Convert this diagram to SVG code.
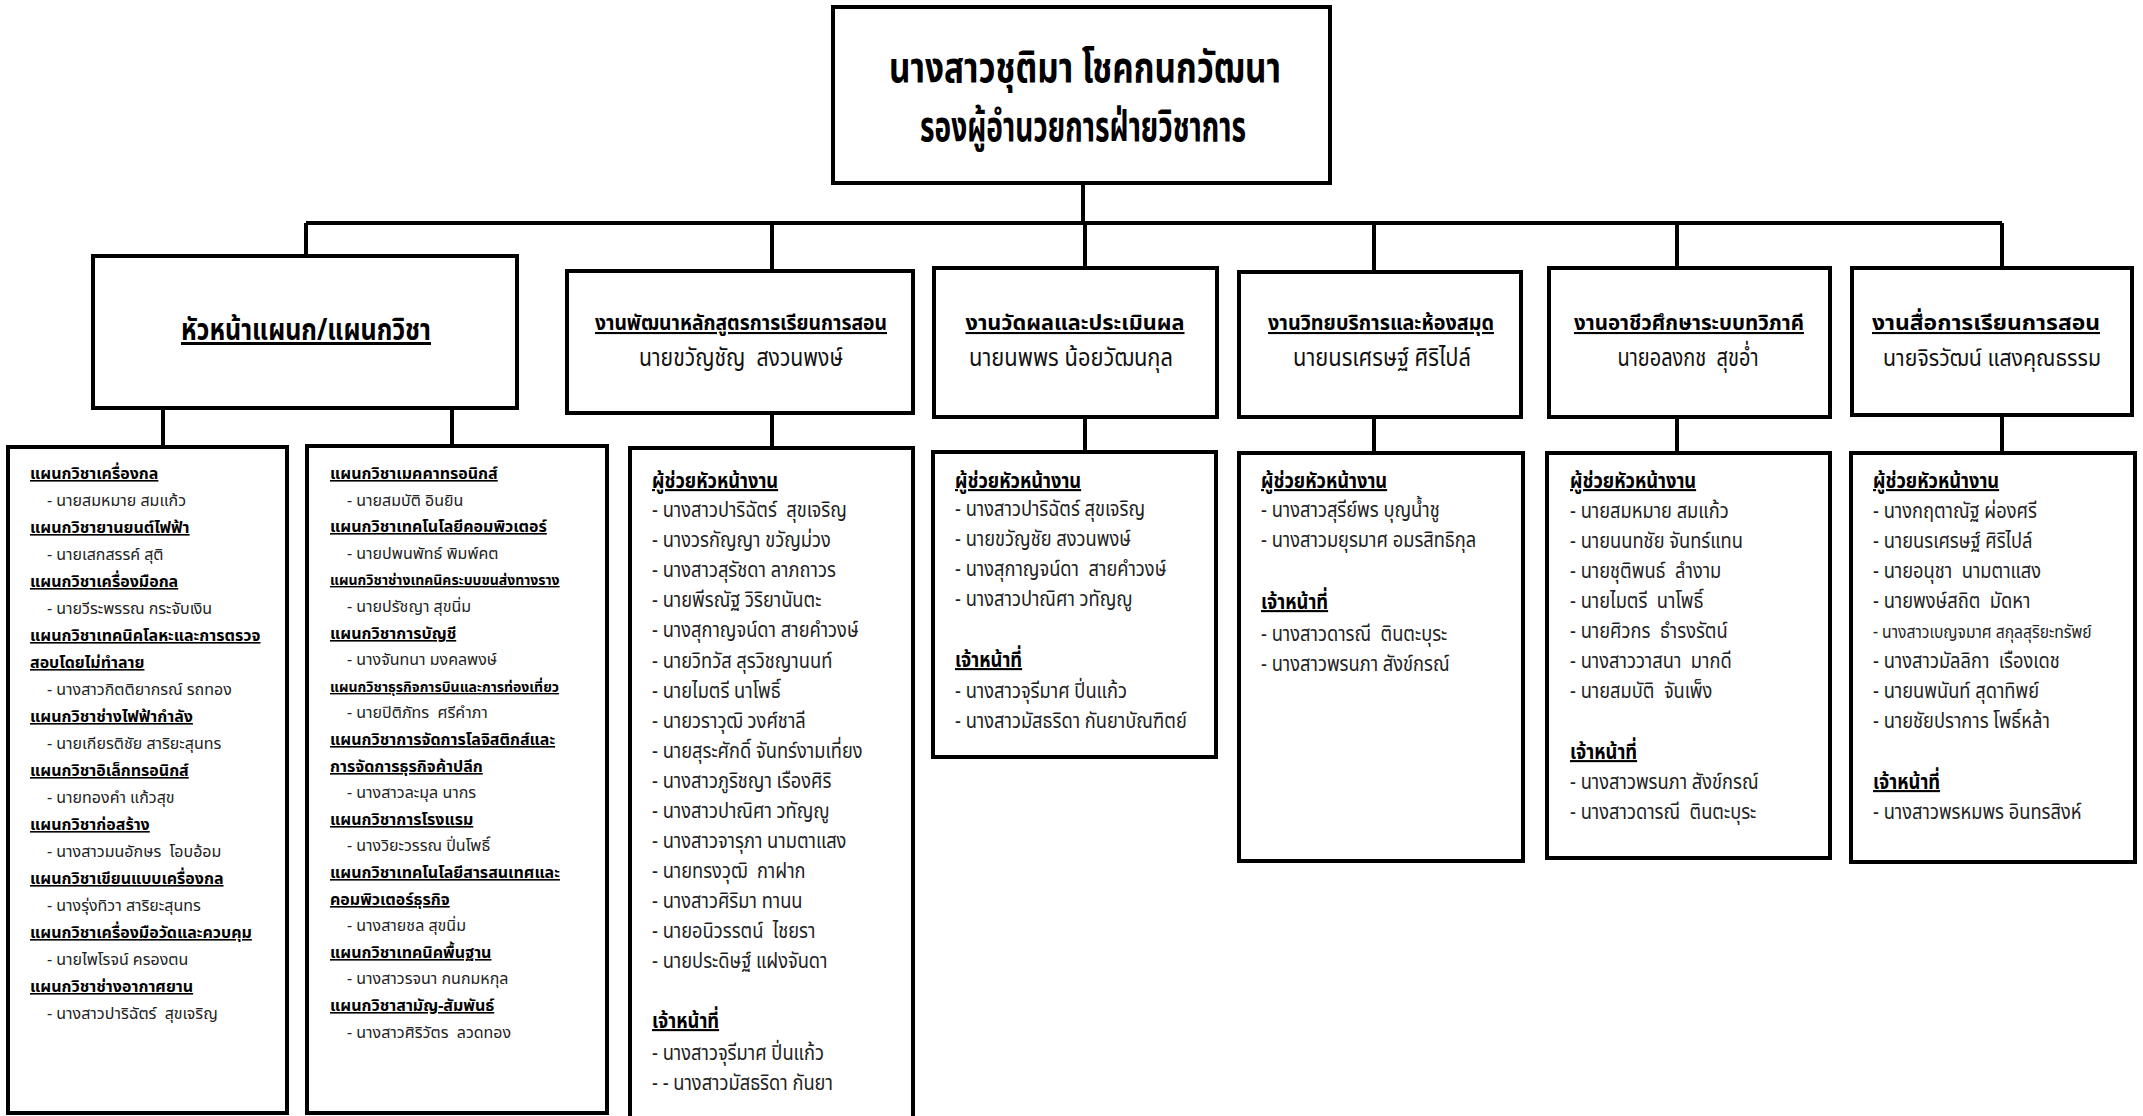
<svg xmlns="http://www.w3.org/2000/svg" width="2143" height="1116" viewBox="0 0 2143 1116">
<style>
.box{fill:#fff;stroke:#000;stroke-width:4}
.conn{stroke:#000;stroke-width:4;fill:none}
text{font-family:"Noto Sans Thai","Noto Sans Thai Looped","Noto Sans","DejaVu Sans",sans-serif;fill:#000;white-space:pre}
.title{font-size:42px;font-weight:bold}
.h1{font-size:30px;font-weight:bold;text-decoration:underline}
.hh{font-size:21px;font-weight:bold;text-decoration:underline}
.hn{font-size:25px;fill:#111}
.la{font-size:16px;fill:#222}
.lah{font-size:16px;font-weight:bold;text-decoration:underline}
.lc{font-size:21px;fill:#222}
.lch{font-size:21px;font-weight:bold;text-decoration:underline}
</style>
<rect width="2143" height="1116" fill="#fff"/>
<g id="connectors">
<path class="conn" d="M1083 183V223M306 223H2002M306 223V256M772 223V271M1085 223V268M1374 223V272M1677 223V268M2002 223V268M163 408V447M452 408V446M772 413V448M1085 417V452M1374 417V453M1677 417V453M2002 415V453"/>
</g>
<g id="top">
<rect class="box" x="833" y="7" width="497" height="176"/>
<text class="title" x="1085" y="82" text-anchor="middle" textLength="392" lengthAdjust="spacingAndGlyphs">นางสาวชุติมา โชคกนกวัฒนา</text>
<text class="title" x="1083" y="141" text-anchor="middle" textLength="326" lengthAdjust="spacingAndGlyphs">รองผู้อำนวยการฝ่ายวิชาการ</text>
</g>
<g id="h1">
<rect class="box" x="93" y="256" width="424" height="152"/>
<text class="h1" x="306" y="340" text-anchor="middle" textLength="250" lengthAdjust="spacingAndGlyphs">หัวหน้าแผนก/แผนกวิชา</text>
</g>
<g id="h2">
<rect class="box" x="567" y="271" width="346" height="142"/>
<text class="hh" x="741" y="330" text-anchor="middle" textLength="292" lengthAdjust="spacingAndGlyphs">งานพัฒนาหลักสูตรการเรียนการสอน</text>
<text class="hn" x="741" y="366" text-anchor="middle" textLength="204" lengthAdjust="spacingAndGlyphs">นายขวัญชัญ  สงวนพงษ์</text>
</g>
<g id="h3">
<rect class="box" x="934" y="268" width="283" height="149"/>
<text class="hh" x="1075" y="330" text-anchor="middle" textLength="219" lengthAdjust="spacingAndGlyphs">งานวัดผลและประเมินผล</text>
<text class="hn" x="1071" y="366" text-anchor="middle" textLength="204" lengthAdjust="spacingAndGlyphs">นายนพพร น้อยวัฒนกุล</text>
</g>
<g id="h4">
<rect class="box" x="1239" y="272" width="282" height="145"/>
<text class="hh" x="1381" y="330" text-anchor="middle" textLength="226" lengthAdjust="spacingAndGlyphs">งานวิทยบริการและห้องสมุด</text>
<text class="hn" x="1382" y="366" text-anchor="middle" textLength="178" lengthAdjust="spacingAndGlyphs">นายนรเศรษฐ์ ศิริไปล์</text>
</g>
<g id="h5">
<rect class="box" x="1549" y="268" width="281" height="149"/>
<text class="hh" x="1689" y="330" text-anchor="middle" textLength="230" lengthAdjust="spacingAndGlyphs">งานอาชีวศึกษาระบบทวิภาคี</text>
<text class="hn" x="1688" y="366" text-anchor="middle" textLength="141" lengthAdjust="spacingAndGlyphs">นายอลงกช  สุขอ่ำ</text>
</g>
<g id="h6">
<rect class="box" x="1852" y="268" width="280" height="147"/>
<text class="hh" x="1986" y="330" text-anchor="middle" textLength="228" lengthAdjust="spacingAndGlyphs">งานสื่อการเรียนการสอน</text>
<text class="hn" x="1992" y="366" text-anchor="middle" textLength="218" lengthAdjust="spacingAndGlyphs" style="font-size:23px">นายจิรวัฒน์ แสงคุณธรรม</text>
</g>
<g id="subA">
<rect class="box" x="8" y="447" width="279" height="666"/>
<text class="lah" x="30" y="479">แผนกวิชาเครื่องกล</text>
<text class="la" x="47" y="506">- นายสมหมาย สมแก้ว</text>
<text class="lah" x="30" y="533">แผนกวิชายานยนต์ไฟฟ้า</text>
<text class="la" x="47" y="560">- นายเสกสรรค์ สุติ</text>
<text class="lah" x="30" y="587">แผนกวิชาเครื่องมือกล</text>
<text class="la" x="47" y="614">- นายวีระพรรณ กระจับเงิน</text>
<text class="lah" x="30" y="641">แผนกวิชาเทคนิคโลหะและการตรวจ</text>
<text class="lah" x="30" y="668">สอบโดยไม่ทำลาย</text>
<text class="la" x="47" y="695">- นางสาวกิตติยากรณ์ รถทอง</text>
<text class="lah" x="30" y="722">แผนกวิชาช่างไฟฟ้ากำลัง</text>
<text class="la" x="47" y="749">- นายเกียรติชัย สาริยะสุนทร</text>
<text class="lah" x="30" y="776">แผนกวิชาอิเล็กทรอนิกส์</text>
<text class="la" x="47" y="803">- นายทองคำ แก้วสุข</text>
<text class="lah" x="30" y="830">แผนกวิชาก่อสร้าง</text>
<text class="la" x="47" y="857">- นางสาวมนอักษร  โอบอ้อม</text>
<text class="lah" x="30" y="884">แผนกวิชาเขียนแบบเครื่องกล</text>
<text class="la" x="47" y="911">- นางรุ่งทิวา สาริยะสุนทร</text>
<text class="lah" x="30" y="938">แผนกวิชาเครื่องมือวัดและควบคุม</text>
<text class="la" x="47" y="965">- นายไพโรจน์ ครองตน</text>
<text class="lah" x="30" y="992">แผนกวิชาช่างอากาศยาน</text>
<text class="la" x="47" y="1019">- นางสาวปาริฉัตร์  สุขเจริญ</text>
</g>
<g id="subB">
<rect class="box" x="307" y="446" width="300" height="667"/>
<text class="lah" x="330" y="479">แผนกวิชาเมคคาทรอนิกส์</text>
<text class="la" x="347" y="506">- นายสมบัติ อินยิน</text>
<text class="lah" x="330" y="532">แผนกวิชาเทคโนโลยีคอมพิวเตอร์</text>
<text class="la" x="347" y="559">- นายปพนพัทธ์ พิมพ์คต</text>
<text class="lah" x="330" y="585" style="font-size:14px">แผนกวิชาช่างเทคนิคระบบขนส่งทางราง</text>
<text class="la" x="347" y="612">- นายปรัชญา สุขนิ่ม</text>
<text class="lah" x="330" y="639">แผนกวิชาการบัญชี</text>
<text class="la" x="347" y="665">- นางจันทนา มงคลพงษ์</text>
<text class="lah" x="330" y="692" style="font-size:14px">แผนกวิชาธุรกิจการบินและการท่องเที่ยว</text>
<text class="la" x="347" y="718">- นายปิติภัทร  ศรีคำภา</text>
<text class="lah" x="330" y="745">แผนกวิชาการจัดการโลจิสติกส์และ</text>
<text class="lah" x="330" y="772">การจัดการธุรกิจค้าปลีก</text>
<text class="la" x="347" y="798">- นางสาวละมุล นากร</text>
<text class="lah" x="330" y="825">แผนกวิชาการโรงแรม</text>
<text class="la" x="347" y="851">- นางวิยะวรรณ ปิ่นโพธิ์</text>
<text class="lah" x="330" y="878">แผนกวิชาเทคโนโลยีสารสนเทศและ</text>
<text class="lah" x="330" y="905">คอมพิวเตอร์ธุรกิจ</text>
<text class="la" x="347" y="931">- นางสายชล สุขนิ่ม</text>
<text class="lah" x="330" y="958">แผนกวิชาเทคนิคพื้นฐาน</text>
<text class="la" x="347" y="984">- นางสาวรจนา กนกมหกุล</text>
<text class="lah" x="330" y="1011">แผนกวิชาสามัญ-สัมพันธ์</text>
<text class="la" x="347" y="1038">- นางสาวศิริวัตร  ลวดทอง</text>
</g>
<g id="subC">
<rect class="box" x="630" y="448" width="283" height="672"/>
<g transform="translate(652,0) scale(0.87,1)">
<text class="lch" x="0" y="488">ผู้ช่วยหัวหน้างาน</text>
<text class="lc" x="0" y="517">- นางสาวปาริฉัตร์  สุขเจริญ</text>
<text class="lc" x="0" y="547">- นางวรกัญญา ขวัญม่วง</text>
<text class="lc" x="0" y="577">- นางสาวสุรัชดา ลาภถาวร</text>
<text class="lc" x="0" y="607">- นายพีรณัฐ วิริยานันตะ</text>
<text class="lc" x="0" y="637">- นางสุกาญจน์ดา สายคำวงษ์</text>
<text class="lc" x="0" y="668">- นายวิทวัส สุรวิชญานนท์</text>
<text class="lc" x="0" y="698">- นายไมตรี นาโพธิ์</text>
<text class="lc" x="0" y="728">- นายวราวุฒิ วงศ์ชาลี</text>
<text class="lc" x="0" y="758">- นายสุระศักดิ์ จันทร์งามเที่ยง</text>
<text class="lc" x="0" y="788">- นางสาวภูริชญา เรืองศิริ</text>
<text class="lc" x="0" y="818">- นางสาวปาณิศา วทัญญู</text>
<text class="lc" x="0" y="848">- นางสาวจารุภา นามตาแสง</text>
<text class="lc" x="0" y="878">- นายทรงวุฒิ  กาฝาก</text>
<text class="lc" x="0" y="908">- นางสาวศิริมา ทานน</text>
<text class="lc" x="0" y="938">- นายอนิวรรตน์  ไชยรา</text>
<text class="lc" x="0" y="968">- นายประดิษฐ์ แฝงจันดา</text>
<text class="lch" x="0" y="1028">เจ้าหน้าที่</text>
<text class="lc" x="0" y="1060">- นางสาวจุรีมาศ ปิ่นแก้ว</text>
<text class="lc" x="0" y="1090">- - นางสาวมัสธริดา กันยา</text>
</g>
</g>
<g id="subD">
<rect class="box" x="933" y="452" width="283" height="305"/>
<g transform="translate(955,0) scale(0.87,1)">
<text class="lch" x="0" y="488">ผู้ช่วยหัวหน้างาน</text>
<text class="lc" x="0" y="516">- นางสาวปาริฉัตร์ สุขเจริญ</text>
<text class="lc" x="0" y="546">- นายขวัญชัย สงวนพงษ์</text>
<text class="lc" x="0" y="576">- นางสุกาญจน์ดา  สายคำวงษ์</text>
<text class="lc" x="0" y="606">- นางสาวปาณิศา วทัญญู</text>
<text class="lch" x="0" y="667">เจ้าหน้าที่</text>
<text class="lc" x="0" y="698">- นางสาวจุรีมาศ ปิ่นแก้ว</text>
<text class="lc" x="0" y="728">- นางสาวมัสธริดา กันยาบัณฑิตย์</text>
</g>
</g>
<g id="subE">
<rect class="box" x="1239" y="453" width="284" height="408"/>
<g transform="translate(1261,0) scale(0.87,1)">
<text class="lch" x="0" y="488">ผู้ช่วยหัวหน้างาน</text>
<text class="lc" x="0" y="517">- นางสาวสุรีย์พร บุญน้ำชู</text>
<text class="lc" x="0" y="547">- นางสาวมยุรมาศ อมรสิทธิกุล</text>
<text class="lch" x="0" y="609">เจ้าหน้าที่</text>
<text class="lc" x="0" y="641">- นางสาวดารณี  ตินตะบุระ</text>
<text class="lc" x="0" y="671">- นางสาวพรนภา สังข์กรณ์</text>
</g>
</g>
<g id="subF">
<rect class="box" x="1547" y="453" width="283" height="405"/>
<g transform="translate(1570,0) scale(0.87,1)">
<text class="lch" x="0" y="488">ผู้ช่วยหัวหน้างาน</text>
<text class="lc" x="0" y="518">- นายสมหมาย สมแก้ว</text>
<text class="lc" x="0" y="548">- นายนนทชัย จันทร์แทน</text>
<text class="lc" x="0" y="578">- นายชุติพนธ์  ลำงาม</text>
<text class="lc" x="0" y="608">- นายไมตรี  นาโพธิ์</text>
<text class="lc" x="0" y="638">- นายศิวกร  ธำรงรัตน์</text>
<text class="lc" x="0" y="668">- นางสาววาสนา  มากดี</text>
<text class="lc" x="0" y="698">- นายสมบัติ  จันเพ็ง</text>
<text class="lch" x="0" y="759">เจ้าหน้าที่</text>
<text class="lc" x="0" y="789">- นางสาวพรนภา สังข์กรณ์</text>
<text class="lc" x="0" y="819">- นางสาวดารณี  ตินตะบุระ</text>
</g>
</g>
<g id="subG">
<rect class="box" x="1851" y="453" width="284" height="409"/>
<g transform="translate(1873,0) scale(0.87,1)">
<text class="lch" x="0" y="488">ผู้ช่วยหัวหน้างาน</text>
<text class="lc" x="0" y="518">- นางกฤตาณัฐ ผ่องศรี</text>
<text class="lc" x="0" y="548">- นายนรเศรษฐ์ ศิริไปล์</text>
<text class="lc" x="0" y="578">- นายอนุชา  นามตาแสง</text>
<text class="lc" x="0" y="608">- นายพงษ์สถิต  มัดหา</text>
<text class="lc" x="0" y="638" style="font-size:18px">- นางสาวเบญจมาศ สกุลสุริยะทรัพย์</text>
<text class="lc" x="0" y="668">- นางสาวมัลลิกา  เรืองเดช</text>
<text class="lc" x="0" y="698">- นายนพนันท์ สุดาทิพย์</text>
<text class="lc" x="0" y="728">- นายชัยปราการ โพธิ์หล้า</text>
<text class="lch" x="0" y="789">เจ้าหน้าที่</text>
<text class="lc" x="0" y="819">- นางสาวพรหมพร อินทรสิงห์</text>
</g>
</g>
</svg>
